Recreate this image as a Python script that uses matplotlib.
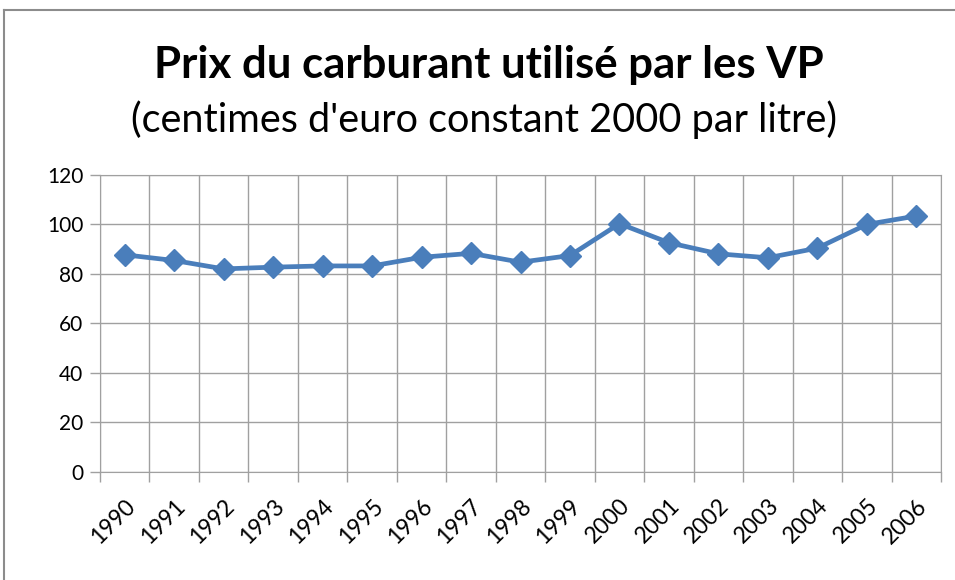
import numpy as np
import matplotlib.pyplot as plt
from matplotlib.lines import Line2D

years = [str(y) for y in range(1990, 2007)]
prices = [87.7, 85.4, 82.0, 82.7, 83.2, 83.2, 86.7, 88.3, 84.7, 87.4,
          100.3, 92.6, 88.1, 86.5, 90.4, 100.0, 103.4]
y_ticks = [0, 20, 40, 60, 80, 100, 120]

title = "Prix du carburant utilisé par les VP"
subtitle = "(centimes d'euro constant 2000 par litre)"

plt.rcParams['font.family'] = ['Lato', 'DejaVu Sans']

W, H = 955, 580
fig = plt.figure(figsize=(W / 100, H / 100), dpi=100)

# outer chart frame (left + top edges visible)
grey = '#8c8c8c'
fig.add_artist(Line2D([4 / W, 4 / W], [0, 1 - 10 / H], color=grey, lw=1.5))
fig.add_artist(Line2D([4 / W, 1], [1 - 10 / H, 1 - 10 / H], color=grey, lw=1.5))

ax = fig.add_axes([100 / W, 1 - 471.5 / H, 841 / W, 296.5 / H])

x = np.arange(len(years))
ax.plot(x, prices, color='#4a7ebb', lw=3.4, marker='D', markersize=11,
        markeredgecolor='#4a7ebb', zorder=3)

ax.set_xlim(-0.5, len(years) - 0.5)
ax.set_ylim(0, 120)
ax.set_yticks(y_ticks)

ax.set_xticks(x)
ax.set_xticklabels(years, rotation=45, ha='right', rotation_mode='anchor', fontsize=16.5)
ax.set_xticks(np.arange(-0.5, len(years)), minor=True)
ax.tick_params(axis='x', which='major', length=0, pad=17)
ax.tick_params(axis='x', which='minor', length=7, color='#a0a0a0', width=1)
ax.tick_params(axis='y', length=7, color='#a0a0a0', width=1, labelsize=15, pad=5)

ax.grid(axis='y', which='major', color='#a0a0a0', lw=1)
ax.grid(axis='x', which='minor', color='#a0a0a0', lw=1)
ax.set_axisbelow(True)
for s in ax.spines.values():
    s.set_color('#a0a0a0')

fig.text(489 / W, 1 - 65 / H, title, ha='center', va='center',
         fontsize=31.5, fontweight='bold')
fig.text(484 / W, 1 - 120 / H, subtitle, ha='center', va='center', fontsize=28.5)

fig.savefig('out.png', dpi=100)
